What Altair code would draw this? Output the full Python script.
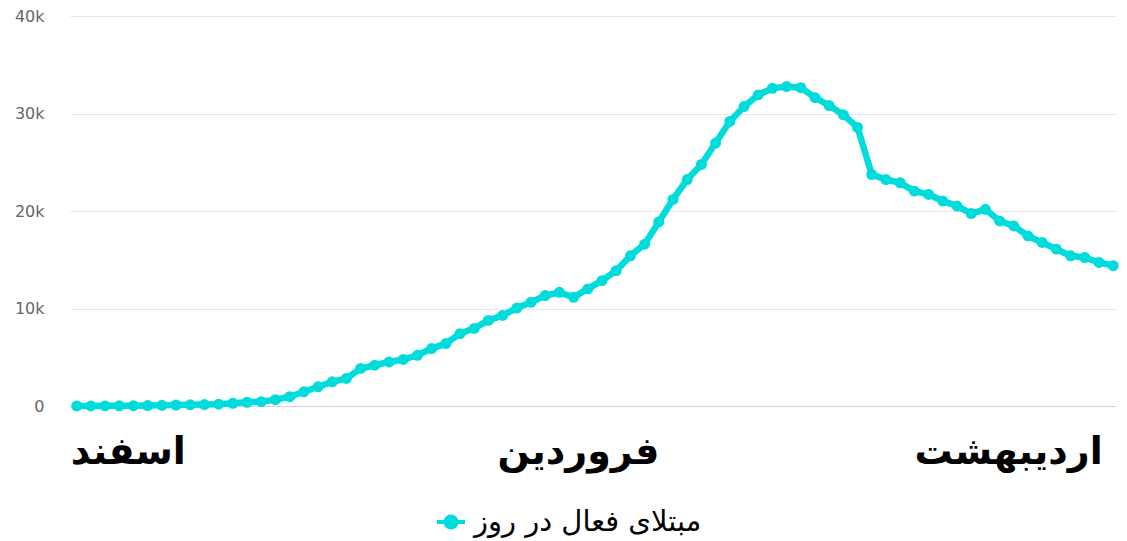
import altair as alt
import pandas as pd

series_name = "مبتلای فعال در روز"
days = list(range(74))
active = [0, 5, 15, 25, 35, 50, 70, 95, 120, 150, 190, 280, 380, 450, 650, 950,
          1460, 1970, 2480, 2830, 3850, 4180, 4520, 4770, 5200, 5890, 6400, 7420, 7960, 8780,
          9290, 10050, 10640, 11330, 11660, 11150, 12010, 12860, 13880, 15410,
          16600, 18880, 21190, 23230, 24770, 26970, 29180, 30710, 31910, 32580,
          32760, 32650, 31630, 30820, 29870, 28570, 23740, 23230, 22890, 22040,
          21700, 21020, 20510, 19740, 20170, 18980, 18470, 17450, 16770, 16090,
          15410, 15230, 14720, 14390]

month_labels = ["اسفند", "فروردین", "اردیبهشت"]
month_pos = [3.6, 35.3, 65.6]

y_ticks = [0, 10000, 20000, 30000, 40000]
y_tick_labels = ["0", "10k", "20k", "30k", "40k"]

LINE_COLOR = "#00dcdc"

x_label_expr = (
    f"datum.value < {(month_pos[0] + month_pos[1]) / 2} ? '{month_labels[0]}' : "
    f"datum.value < {(month_pos[1] + month_pos[2]) / 2} ? '{month_labels[1]}' : '{month_labels[2]}'"
)
y_label_expr = " : ".join(
    f"datum.value == {v} ? '{l}'" for v, l in zip(y_ticks, y_tick_labels)
) + " : ''"

df = pd.DataFrame({"day": days, "active": active, "series": [series_name] * len(days)})

legend_symbol = "M-1,0L1,0M-0.4,0A0.4,0.4 0 1,1 0.4,0A0.4,0.4 0 1,1 -0.4,0Z"

chart = alt.Chart(df).mark_line(
    strokeWidth=6.5,
    point=alt.OverlayMarkDef(filled=True, size=120, opacity=1, color=LINE_COLOR),
).encode(
    x=alt.X(
        "day:Q",
        scale=alt.Scale(domain=[-0.47, 73.2], nice=False, zero=False),
        axis=alt.Axis(
            values=month_pos,
            labelExpr=x_label_expr,
            grid=False,
            ticks=False,
            domain=True,
            domainColor="#ccd6eb",
            domainWidth=1,
            labelFontSize=38,
            labelFont="DejaVu Sans",
            labelFontWeight="bold",
            labelColor="#000000",
            labelPadding=46,
            labelBaseline="middle",
            labelFlush=False,
            labelOverlap=False,
            labelLimit=0,
            title=None,
        ),
    ),
    y=alt.Y(
        "active:Q",
        scale=alt.Scale(domain=[0, 40000], nice=False),
        axis=alt.Axis(
            values=y_ticks,
            labelExpr=y_label_expr,
            grid=True,
            gridColor="#e6e6e6",
            gridWidth=1,
            ticks=False,
            domain=False,
            labelFontSize=16,
            labelFont="DejaVu Sans",
            labelColor="#666666",
            labelPadding=26,
            title=None,
        ),
    ),
    color=alt.Color(
        "series:N",
        scale=alt.Scale(range=[LINE_COLOR]),
        legend=alt.Legend(
            title=None,
            orient="none",
            legendX=365,
            legendY=490,
            symbolType=legend_symbol,
            symbolSize=784,
            symbolStrokeWidth=4,
            symbolFillColor=LINE_COLOR,
            symbolStrokeColor=LINE_COLOR,
            labelFontSize=29,
            labelFont="DejaVu Sans",
            labelColor="#000000",
            labelOffset=7,
            labelLimit=0,
        ),
    ),
).properties(
    width=1046,
    height=390,
    autosize=alt.AutoSizeParams(type="none"),
    padding={"left": 62, "top": 8, "right": 3, "bottom": 133},
    background="white",
).configure_view(stroke=None)

chart.save("out.html", embed_options={"renderer": "svg", "actions": False})
